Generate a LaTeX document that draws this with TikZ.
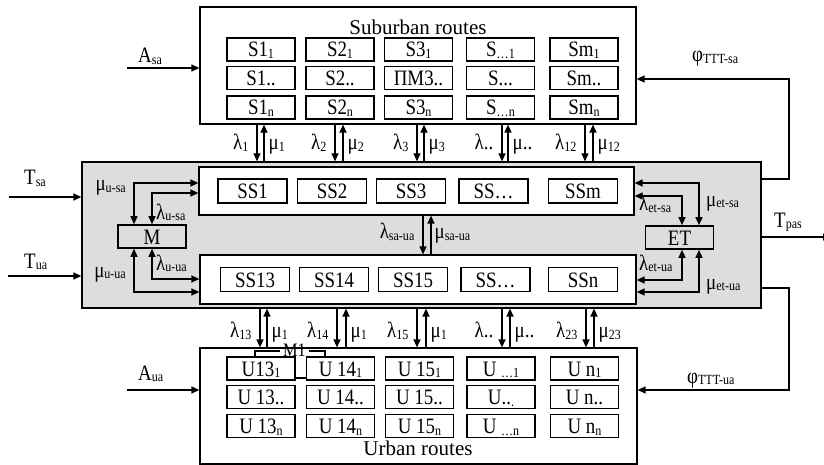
\documentclass[tikz,border=0pt]{standalone}
\usepackage{fontspec}
\setmainfont[FakeStretch=0.86]{Liberation Serif}
\newfontfamily\titlefont{Liberation Serif}
\usetikzlibrary{arrows.meta}
\definecolor{grayfill}{RGB}{221,221,221}
\newcommand{\sbx}[1]{\raisebox{-1.5pt}{\fontsize{14}{14}\selectfont #1}}
\begin{document}
\begin{tikzpicture}[x=1pt,y=-1pt,font=\fontsize{22}{24}\selectfont,
  arr/.style={line width=1.3pt,-{Triangle[length=8pt,width=7pt]}},
  dbl/.style={line width=1.3pt,{Triangle[length=8pt,width=7pt]}-{Triangle[length=8pt,width=7pt]}},
  cell/.style={draw,line width=1.6pt,minimum width=68pt,minimum height=23pt,inner sep=0pt,text height=15pt,text depth=0pt},
  ss/.style={cell,minimum width=69pt,minimum height=24pt},
  frame/.style={draw,line width=1.2pt,inner sep=0pt},
  lbl/.style={inner sep=0pt},
  ttl/.style={inner sep=0pt,font=\titlefont\fontsize{21}{23}\selectfont}]
\useasboundingbox (0,0) rectangle (824,465);
% frames
\node[frame,minimum width=436pt,minimum height=117pt] (top) at (418,65.5) {};
\node[frame,fill=grayfill,minimum width=679pt,minimum height=146pt] (gray) at (421.5,235) {};
\node[frame,fill=white,minimum width=435pt,minimum height=48pt] (ubox) at (416.5,191) {};
\node[frame,fill=white,minimum width=436pt,minimum height=49pt] (lbox) at (418,279.5) {};
\node[frame,minimum width=437pt,minimum height=116pt] (bot) at (418.5,406) {};
\node[ttl,anchor=base] (ttop) at (418,35) {Suburban routes};
\node[ttl,anchor=base] (tbot) at (418,455) {Urban routes};
% top cells
\node[cell] (s11) at (261,49.5) {S1\sbx{1}};
\node[cell] (s21) at (340,49.5) {S2\sbx{1}};
\node[cell] (s31) at (418.5,49.5) {S3\sbx{1}};
\node[cell] (s41) at (500.5,49.5) {S\sbx{…1}};
\node[cell] (s51) at (584,49.5) {Sm\sbx{1}};
\node[cell] (s12) at (261,78) {S1..};
\node[cell] (s22) at (340,78) {S2..};
\node[cell] (s32) at (418.5,78) {ΠM3..};
\node[cell] (s42) at (500.5,78) {S...};
\node[cell] (s52) at (584,78) {Sm..};
\node[cell] (s13) at (261,107.5) {S1\sbx{n}};
\node[cell] (s23) at (340,107.5) {S2\sbx{n}};
\node[cell] (s33) at (418.5,107.5) {S3\sbx{n}};
\node[cell] (s43) at (500.5,107.5) {S\sbx{…n}};
\node[cell] (s53) at (584,107.5) {Sm\sbx{n}};
% bottom cells
\node[cell] (u11) at (261,368.5) {U13\sbx{1}};
\node[cell] (u21) at (340.5,368.5) {U 14\sbx{1}};
\node[cell] (u31) at (419.5,368.5) {U 15\sbx{1}};
\node[cell] (u41) at (501,368.5) {U \sbx{…1}};
\node[cell] (u51) at (584.5,368.5) {U n\sbx{1}};
\node[cell] (u12) at (261,397) {U 13..};
\node[cell] (u22) at (340.5,397) {U 14..};
\node[cell] (u32) at (419.5,397) {U 15..};
\node[cell] (u42) at (501,397) {U..\sbx{.}};
\node[cell] (u52) at (584.5,397) {U n..};
\node[cell] (u13) at (261,426) {U 13\sbx{n}};
\node[cell] (u23) at (340.5,426) {U 14\sbx{n}};
\node[cell] (u33) at (419.5,426) {U 15\sbx{n}};
\node[cell] (u43) at (501,426) {U \sbx{…n}};
\node[cell] (u53) at (584.5,426) {U n\sbx{n}};
% SS cells
\node[ss] (ss1) at (252.5,191) {SS1};
\node[ss] (ss2) at (332,191) {SS2};
\node[ss] (ss3) at (411,191) {SS3};
\node[ss] (ss4) at (493.5,191) {SS…};
\node[ss] (ssm) at (583,191) {SSm};
\node[ss] (ss13) at (255,279.5) {SS13};
\node[ss] (ss14) at (334,279.5) {SS14};
\node[ss] (ss15) at (413,279.5) {SS15};
\node[ss] (ss16) at (495.5,279.5) {SS…};
\node[ss] (ssn) at (583,279.5) {SSn};
\node[cell] (M) at (152,236.5) {M};
\node[cell] (ET) at (679.5,237.5) {ET};
% top pairs
\foreach \d/\u/\l/\m in {257/264/1/1, 335/343/2/2, 417/424/3/3, 585/593/12/12}{
  \draw[arr] (\d,0 |- top.south) -- node[lbl,pos=0.684,anchor=base east,xshift=-8pt]{λ\sbx{\l}} (\d,0 |- gray.north);
  \draw[arr] (\u,0 |- gray.north) -- node[lbl,pos=0.316,anchor=base west,xshift=4pt]{μ\sbx{\m}} (\u,0 |- top.south);
}
\draw[arr] (502,0 |- top.south) -- node[lbl,pos=0.684,anchor=base east,xshift=-8pt]{λ..} (502,0 |- gray.north);
\draw[arr] (508,0 |- gray.north) -- node[lbl,pos=0.316,anchor=base west,xshift=4pt]{μ..} (508,0 |- top.south);
% bottom pairs
\foreach \d/\u/\l/\m in {260/267/13/1, 337/346/14/1, 417/426/15/1, 586/594/23/23}{
  \draw[arr] (\d,0 |- gray.south) -- node[lbl,pos=0.75,anchor=base east,xshift=-8pt]{λ\sbx{\l}} (\d,0 |- bot.north);
  \draw[arr] (\u,0 |- bot.north) -- node[lbl,pos=0.25,anchor=base west,xshift=4pt]{μ\sbx{\m}} (\u,0 |- gray.south);
}
\draw[arr] (502,0 |- gray.south) -- node[lbl,pos=0.75,anchor=base east,xshift=-8pt]{λ..} (502,0 |- bot.north);
\draw[arr] (510,0 |- bot.north) -- node[lbl,pos=0.25,anchor=base west,xshift=4pt]{μ..} (510,0 |- gray.south);
% middle pair
\draw[arr] (423,0 |- ubox.south) -- node[lbl,pos=0.6,anchor=base east,xshift=-8pt]{λ\sbx{sa-ua}} (423,0 |- lbox.north);
\draw[arr] (431,0 |- lbox.north) -- node[lbl,pos=0.4,anchor=base west,xshift=3pt]{μ\sbx{sa-ua}} (431,0 |- ubox.south);
% M connectors
\draw[dbl] ([xshift=-18pt]M.north) |- (ubox.west |- 0,183);
\draw[dbl] (M.north) |- (ubox.west |- 0,193);
\draw[dbl] ([xshift=-18pt]M.south) |- (lbox.west |- 0,292);
\draw[dbl] (M.south) |- (lbox.west |- 0,279);
\node[lbl,anchor=base east] (lmusa) at (126,191) {μ\sbx{u-sa}};
\node[lbl,anchor=base west] (llusa) at (156,219) {λ\sbx{u-sa}};
\node[lbl,anchor=base east] (lmuua) at (126,277) {μ\sbx{u-ua}};
\node[lbl,anchor=base west] (lluua) at (156,270) {λ\sbx{u-ua}};
% ET connectors
\draw[dbl] ([xshift=19.5pt]ET.north) |- (ubox.east |- 0,183);
\draw[dbl] ([xshift=2.5pt]ET.north) |- (ubox.east |- 0,196);
\draw[dbl] ([xshift=2.5pt]ET.south) |- (lbox.east |- 0,280);
\draw[dbl] ([xshift=19.5pt]ET.south) |- (lbox.east |- 0,292);
\node[lbl,anchor=base west] (lletsa) at (639,211) {λ\sbx{et-sa}};
\node[lbl,anchor=base west] (lmetsa) at (706,206) {μ\sbx{et-sa}};
\node[lbl,anchor=base west] (lletua) at (639,270) {λ\sbx{et-ua}};
\node[lbl,anchor=base west] (lmetua) at (706,289) {μ\sbx{et-ua}};
% inputs
\coordinate (tsaS) at (9,197);
\coordinate (tuaS) at (8,276);
\coordinate (asaS) at (127,68);
\coordinate (auaS) at (127,390);
\draw[arr] (tsaS) -- (gray.west |- tsaS);
\draw[arr] (tuaS) -- (gray.west |- tuaS);
\draw[arr] (asaS) -- (top.west |- asaS);
\draw[arr] (auaS) -- (bot.west |- auaS);
\node[lbl,anchor=base west] (ltsa) at (24,185) {T\sbx{sa}};
\node[lbl,anchor=base west] (ltua) at (24,268) {T\sbx{ua}};
\node[lbl,anchor=base west] (lasa) at (138,63) {A\sbx{sa}};
\node[lbl,anchor=base west] (laua) at (138,380) {A\sbx{ua}};
% outputs / feedback
\coordinate (tpasE) at (831,237);
\draw[arr] (gray.east |- tpasE) -- (tpasE);
\node[lbl,anchor=base west] (ltpas) at (774,227) {T\sbx{pas}};
\coordinate (cTR) at (789,79);
\coordinate (cBR) at (789,390);
\draw[arr] (gray.east |- 0,179) -| (cTR) -- (top.east |- cTR);
\draw[arr] (gray.east |- 0,288) -| (cBR) -- (bot.east |- cBR);
\node[lbl,anchor=base west] (lphisa) at (692,62) {φ\sbx{TTT-sa}};
\node[lbl,anchor=base west] (lphiua) at (687,383) {φ\sbx{TTT-ua}};
% M1 bracket
\node[inner sep=3pt,font=\fontsize{19}{19}\selectfont] (m1) at (294.5,350) {M1};
\draw[line width=1.5pt] (u11.north -| 255,0) |- (m1.west |- 0,351);
\draw[line width=1.5pt] (m1.east |- 0,351) -| (u21.north -| 325,0);
\draw[line width=1.5pt] (u11.east |- 0,378) -- (u21.west |- 0,378);
\end{tikzpicture}
\end{document}
